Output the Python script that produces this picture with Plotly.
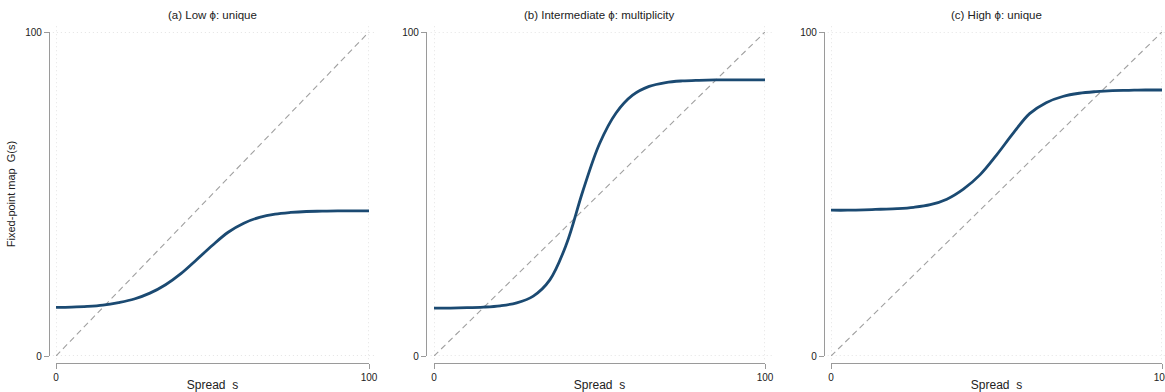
import plotly.graph_objects as go

# ---- data ----
s_grid = [0, 5, 10, 15, 20, 25, 30, 35, 40, 45, 50, 55, 60, 65, 70, 75, 80, 85, 90, 95, 100]
G_low = [15.0, 15.1, 15.3, 15.7, 16.5, 17.6, 19.4, 22.0, 25.5, 29.8, 34.2, 38.2, 41.0, 42.8,
         43.8, 44.3, 44.6, 44.7, 44.8, 44.8, 44.8]
G_mid = [14.8, 14.8, 14.9, 15.1, 15.5, 16.4, 18.5, 23.5, 34.5, 51.0, 65.5, 75.0, 80.5, 83.2,
         84.4, 84.9, 85.1, 85.2, 85.2, 85.2, 85.2]
G_high = [45.0, 45.0, 45.1, 45.3, 45.5, 45.9, 46.7, 48.4, 51.5, 55.9, 62.0, 68.7, 74.8, 78.2,
          80.1, 81.1, 81.6, 81.9, 82.0, 82.1, 82.1]
diag = [0, 100]
panel_titles = ["(a) Low \u03d5: unique", "(b) Intermediate \u03d5: multiplicity", "(c) High \u03d5: unique"]
tick_vals = [0, 100]
tick_text = ["0", "100"]

W, H = 1165, 392
FONT = "Arial, Liberation Sans, Helvetica, sans-serif"
CURVE = "#1b4a72"
AXIS = "#9a9a9a"
GRID = "#c8c8c8"
TXT = "#222222"

# pixel layout (page coordinates of the reference)
x_dom_px = [(56, 369), (434, 765), (831, 1162)]
y_axis_px = [49, 426, 824]
y_top_px, y_bot_px, x_axis_px = 32, 356, 363


def px_x(p):
    return p / W


def px_y(p):
    return 1 - p / H


fig = go.Figure()
series = [G_low, G_mid, G_high]
for i in range(3):
    n = "" if i == 0 else str(i + 1)
    xa, ya = "x" + n, "y" + n
    xd = [px_x(x_dom_px[i][0]), px_x(x_dom_px[i][1])]
    yd = [px_y(y_bot_px), px_y(y_top_px)]

    # dotted grid lines at the tick values
    for v in tick_vals:
        fig.add_shape(type="line", xref=xa, yref=ya + " domain", x0=v, x1=v, y0=-0.01, y1=1.02,
                      line=dict(color=GRID, width=1, dash="1px,3px"), layer="below")
        fig.add_shape(type="line", xref=xa + " domain", yref=ya, x0=-0.01, x1=1.02, y0=v, y1=v,
                      line=dict(color=GRID, width=1, dash="1px,3px"), layer="below")

    fig.add_trace(go.Scatter(x=diag, y=diag, mode="lines", xaxis=xa, yaxis=ya,
                             line=dict(color="#a0a0a0", width=1.1, dash="6px,4px"),
                             showlegend=False, hoverinfo="skip", cliponaxis=False))
    fig.add_trace(go.Scatter(x=s_grid, y=series[i], mode="lines", xaxis=xa, yaxis=ya,
                             line=dict(color=CURVE, width=2.8, shape="spline", smoothing=1.0),
                             showlegend=False, cliponaxis=False))
    xkey = "xaxis" + n
    ykey = "yaxis" + n
    fig.layout[xkey] = dict(
        domain=xd, range=[0, 100], anchor="free", position=px_y(x_axis_px),
        tickvals=tick_vals, ticktext=tick_text, ticks="outside", ticklen=5, tickwidth=1,
        tickcolor=AXIS, showline=True, linecolor=AXIS, linewidth=1.2,
        showgrid=False, zeroline=False, ticklabeloverflow="allow",
        tickfont=dict(family=FONT, size=10, color=TXT),
        title=dict(text="Spread  s", font=dict(family=FONT, size=12, color=TXT), standoff=23),
        automargin=False, fixedrange=True,
    )
    fig.layout[ykey] = dict(
        domain=yd, range=[0, 100], anchor="free", position=px_x(y_axis_px[i]),
        tickvals=tick_vals, ticktext=tick_text, ticks="outside", ticklen=5, tickwidth=1,
        tickcolor=AXIS, showline=True, linecolor=AXIS, linewidth=1.2,
        showgrid=False, zeroline=False, ticklabeloverflow="allow",
        tickfont=dict(family=FONT, size=10, color=TXT),
        automargin=False, fixedrange=True,
    )
    fig.add_annotation(text=panel_titles[i], xref="paper", yref="paper",
                       x=(xd[0] + xd[1]) / 2, y=px_y(15), xanchor="center", yanchor="middle",
                       showarrow=False, font=dict(family=FONT, size=11.5, color=TXT))

fig.layout["yaxis"]["title"] = dict(text="Fixed-point map  G(s)",
                                    font=dict(family=FONT, size=11, color=TXT), standoff=6)

fig.update_layout(width=W, height=H, margin=dict(l=0, r=0, t=0, b=0),
                  paper_bgcolor="white", plot_bgcolor="white",
                  font=dict(family=FONT, color=TXT))
fig.write_html("out.html", config={"displayModeBar": False},
               post_script="document.body.style.margin='0';"
                           "document.documentElement.style.overflow='hidden';"
                           "document.body.style.overflow='hidden';")
